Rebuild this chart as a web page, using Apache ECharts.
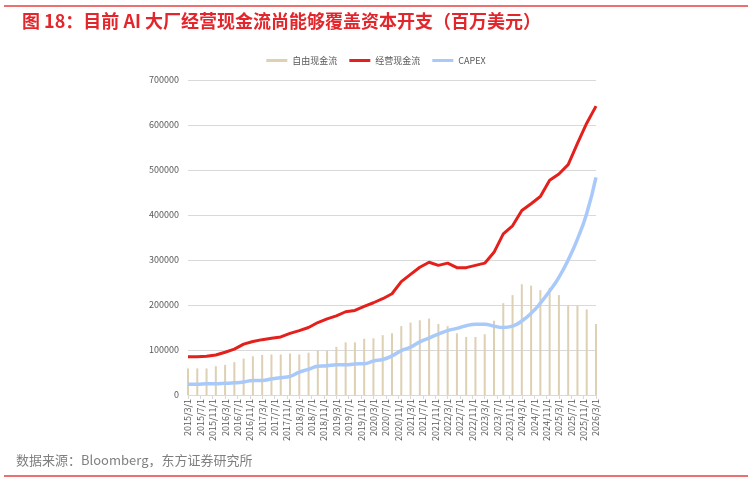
<!DOCTYPE html>
<html>
<head>
<meta charset="utf-8">
<script src="https://cdn.jsdelivr.net/npm/echarts@6/dist/echarts.min.js"></script>
<style>
  html, body { margin: 0; padding: 0; background: #fff; }
  #chart { width: 752px; height: 483px; }
</style>
</head>
<body>
<div id="chart"></div>
<script>
// quarterly points, 2015/3 .. 2026/3
const quarters = []
for (let y = 2015; y <= 2026; y++) {
  for (const m of [3, 6, 9, 12]) {
    if (y === 2026 && m > 3) break
    quarters.push(y + '/' + m + '/1')
  }
}

// monthly categories for the date-like axis
const months = []
for (let y = 2015; y <= 2026; y++) {
  for (let m = 1; m <= 12; m++) {
    if (y === 2015 && m < 3) continue
    if (y === 2026 && m > 3) break
    months.push(y + '/' + m + '/1')
  }
}

const fcf = [59000, 59000, 59000, 64000, 67000, 73000, 81000, 86000, 89000, 90000,
  90000, 92500, 90000, 94000, 98500, 98500, 107000, 117000, 117000, 125000,
  126000, 133000, 137500, 153000, 161000, 166000, 170000, 158000, 153000, 137000,
  129000, 129000, 135000, 165000, 204000, 222000, 246000, 243000, 233000, 238000,
  222000, 198500, 198500, 190000, 158000]

const ocf = [85000, 85000, 86000, 89000, 95000, 102000, 113000, 119000, 123000, 126000,
  129000, 137000, 143000, 150000, 161000, 169000, 176000, 185000, 188000, 197000,
  205000, 214000, 225000, 252000, 268000, 284000, 295000, 288000, 293000, 283000,
  283000, 288000, 293000, 317000, 358000, 376000, 410000, 425000, 441000, 477000,
  491000, 512000, 559000, 604000, 642000]

const capex = [24000, 24000, 25000, 25000, 26000, 27000, 29000, 32500, 32500, 35500,
  38500, 41500, 51000, 57000, 64000, 65000, 67000, 67000, 69000, 69500,
  75500, 79000, 87000, 98500, 106500, 118000, 126500, 135500, 143000, 148000,
  154000, 157000, 157000, 153000, 150000, 153000, 164500, 181500, 204000, 231000,
  261500, 300000, 346500, 403500, 483500]

const yTicks = [0, 100000, 200000, 300000, 400000, 500000, 600000, 700000]

const pairs = vals => vals.map((v, i) => [quarters[i], v])

const chart = echarts.init(document.getElementById('chart'))
chart.setOption({
  animation: false,
  textStyle: { fontFamily: '"Noto Sans CJK SC", "Noto Sans", sans-serif' },
  title: [
    {
      text: '图 18：目前 AI 大厂经营现金流尚能够覆盖资本开支（百万美元）',
      left: 17, top: 7,
      textStyle: { color: '#E3262B', fontSize: 18, fontWeight: 'bold', fontFamily: '"Noto Sans CJK SC", sans-serif' }
    },
    {
      text: '数据来源：Bloomberg，东方证券研究所',
      left: 11, top: 449,
      textStyle: { color: '#7f7f7f', fontSize: 13, fontWeight: 'normal', fontFamily: '"Noto Sans CJK SC", sans-serif' }
    }
  ],
  graphic: [
    { type: 'rect', shape: { x: 4, y: 5, width: 744, height: 2 }, style: { fill: '#EE6F6F' } },
    { type: 'rect', shape: { x: 4, y: 475, width: 744, height: 2 }, style: { fill: '#EE6F6F' } }
  ],
  legend: {
    top: 51, left: 'center',
    itemWidth: 21, itemHeight: 3, itemGap: 12,
    textStyle: { color: '#595959', fontSize: 9 },
    data: [
      { name: '自由现金流', icon: 'rect' },
      { name: '经营现金流', icon: 'rect' },
      { name: 'CAPEX', icon: 'rect' }
    ]
  },
  grid: { left: 188, right: 156, top: 80, bottom: 88 },
  xAxis: {
    type: 'category',
    data: months,
    boundaryGap: false,
    axisLine: { lineStyle: { color: '#d9d9d9' } },
    axisTick: { interval: 3, length: 4, lineStyle: { color: '#d9d9d9' } },
    axisLabel: { interval: 3, rotate: 90, fontSize: 9, color: '#595959', margin: 4 }
  },
  yAxis: {
    type: 'value',
    min: yTicks[0], max: yTicks[yTicks.length - 1], interval: 100000,
    axisLine: { show: false },
    axisTick: { show: false },
    axisLabel: { fontSize: 9, color: '#595959', margin: 9, formatter: v => String(v) },
    splitLine: { lineStyle: { color: '#d9d9d9' } }
  },
  series: [
    {
      name: '自由现金流', type: 'bar', data: pairs(fcf),
      barWidth: 2, itemStyle: { color: '#DDD0B3' }
    },
    {
      name: '经营现金流', type: 'line', data: pairs(ocf),
      symbol: 'none', lineStyle: { color: '#E3201B', width: 3 }, itemStyle: { color: '#E3201B' }
    },
    {
      name: 'CAPEX', type: 'line', data: pairs(capex), smooth: true,
      symbol: 'none', lineStyle: { color: '#A9C9FB', width: 3.5 }, itemStyle: { color: '#A9C9FB' }
    }
  ]
})
</script>
</body>
</html>
